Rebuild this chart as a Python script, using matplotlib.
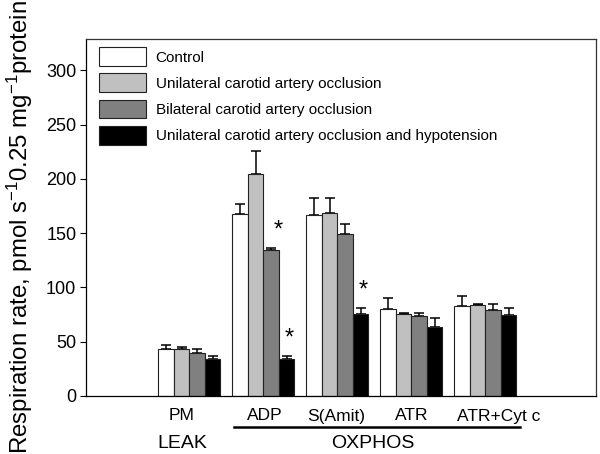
import numpy as np
import matplotlib.pyplot as plt
import matplotlib.transforms as mtransforms

plt.rcParams['font.family'] = ['Liberation Sans', 'DejaVu Sans']
plt.rcParams['mathtext.fontset'] = 'custom'
plt.rcParams['mathtext.rm'] = 'Liberation Sans'
plt.rcParams['mathtext.it'] = 'Liberation Sans'

# Данные
categories = ['PM', 'ADP', 'S(Amit)', 'ATR', 'ATR+Cyt c']
groups = ['Control',
          'Unilateral carotid artery occlusion',
          'Bilateral carotid artery occlusion',
          'Unilateral carotid artery occlusion and hypotension']
control = [43, 168, 167, 80, 82.5]
unilateral = [43.5, 205, 169, 75.8, 83.5]
bilateral = [40, 134.5, 149, 73.7, 79.5]
hypotension = [33.8, 33.8, 75.5, 63.5, 74.6]
control_err = [4, 9, 15.5, 10.5, 9.3]
unilateral_err = [2, 21, 13.5, 0.6, 0.9]
bilateral_err = [3.4, 2.2, 9.5, 2.7, 5.2]
hypotension_err = [3, 3, 5.2, 8.6, 6.4]
# звёздочки: (серия, категория)
stars = [(2, 1), (3, 1), (3, 2)]

values = [control, unilateral, bilateral, hypotension]
errors = [control_err, unilateral_err, bilateral_err, hypotension_err]
colors = ['white', '#c0c0c0', '#808080', 'black']

fig = plt.figure(figsize=(6, 4.54), dpi=100)
ax = fig.add_axes([86/600, 58/454, 510/600, 357/454])

x = np.arange(len(categories))
w = 0.21
for i in range(4):
    pos = x + (i - 1.5) * w
    ax.bar(pos, values[i], w, color=colors[i], edgecolor='#222222',
           linewidth=0.8, label=groups[i], zorder=2)
    ax.errorbar(pos, values[i], yerr=[np.zeros(len(x)), errors[i]], fmt='none',
                ecolor='black', elinewidth=1.1, capsize=3.3, capthick=1.1, zorder=1)

for s, c in stars:
    top = values[s][c] + errors[s][c]
    off = 0.1 if s == 2 else 0.04
    ax.text(x[c] + (s - 1.5) * w + off, top + 6, '*', ha='center', va='bottom',
            fontsize=17)

ax.set_xlim(-1.396, 5.496)
ax.set_ylim(0, 329)
ax.set_yticks(np.arange(0, 301, 50))
ax.tick_params(axis='y', labelsize=13, length=4, width=0.8, pad=3)
ax.set_xticks(x)
ax.set_xticklabels(categories, fontsize=12.5)
ax.tick_params(axis='x', length=0, pad=9)
# подписи категорий в оригинале немного сдвинуты
shifts = [-8, 1, -1, 0, 13]
for lab, dx in zip(ax.get_xticklabels(), shifts):
    lab.set_transform(lab.get_transform() +
                      mtransforms.ScaledTranslation(dx / 100, 0, fig.dpi_scale_trans))

for sp in ax.spines.values():
    sp.set_linewidth(0.9)
    sp.set_color('#333333')
ax.spines['left'].set_color('black')
ax.spines['bottom'].set_color('black')

fig.text(20/600, 1 - 227/454,
         'Respiration rate, pmol s$^{-1}$0.25 mg$^{-1}$protein',
         rotation=90, ha='center', va='center', fontsize=17.3)

# LEAK / OXPHOS
fig.text(182/600, 1 - 443/454, 'LEAK', ha='center', va='center', fontsize=14)
fig.text(373/600, 1 - 443/454, 'OXPHOS', ha='center', va='center', fontsize=14)
fig.add_artist(plt.Line2D([234/600, 520/600], [1 - 426.5/454, 1 - 426.5/454],
                          color='black', linewidth=1.8))

ax.legend(loc='upper left', bbox_to_anchor=(0.0255, 0.977), frameon=False,
          fontsize=11, handlelength=3.1, handleheight=1.5, labelspacing=0.5,
          handletextpad=0.6, borderaxespad=0, borderpad=0)

plt.savefig('out.png', dpi=100, facecolor='white')
plt.close()
